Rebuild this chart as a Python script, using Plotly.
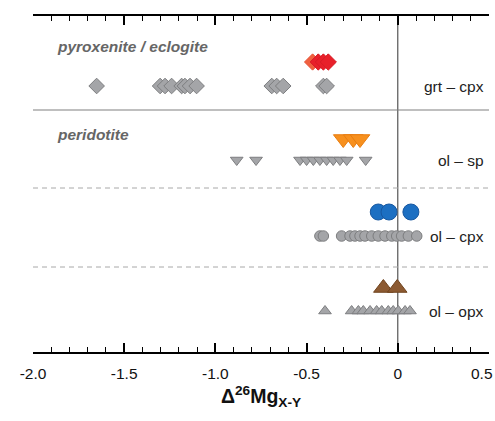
import plotly.graph_objects as go

# ---- data (Δ26Mg values) ----
grt_cpx_gray = [-1.651, -1.303, -1.276, -1.240, -1.185, -1.167, -1.139, -1.103,
                -0.691, -0.664, -0.628, -0.408, -0.390]
grt_cpx_red_light = [-0.467]
grt_cpx_red = [-0.436, -0.408, -0.381]

ol_sp_gray = [-0.883, -0.777, -0.536, -0.500, -0.463, -0.427, -0.390, -0.354,
              -0.317, -0.280, -0.176]
ol_sp_orange = [-0.299, -0.244, -0.207]

ol_cpx_gray = [-0.427, -0.408, -0.308, -0.262, -0.235, -0.207, -0.180, -0.143,
               -0.107, -0.070, -0.033, -0.006, 0.021, 0.058, 0.104]
ol_cpx_blue = [-0.107, -0.048, 0.072]

ol_opx_gray = [-0.399, -0.253, -0.216, -0.189, -0.152, -0.116, -0.088, -0.052,
               -0.025, 0.003, 0.040, 0.067]
ol_opx_brown = [-0.079, -0.003]

pair_labels = ["grt – cpx", "ol – sp", "ol – cpx", "ol – opx"]
group_labels = ["pyroxenite / eclogite", "peridotite"]
tick_vals = [-2.0, -1.5, -1.0, -0.5, 0, 0.5]
tick_text = ["-2.0", "-1.5", "-1.0", "-0.5", "0", "0.5"]

# row levels (vertical layout units, top=16, bottom=352)
row_gray = [86, 160, 236, 311]
row_color = [62, 139, 212, 288]
group_rows = [46, 134]
sep_solid = 110
sep_dashed = [188, 267]

GRAY = "#a4a5a8"
GRAY_LINE = "#7d7e80"
FONT = "Liberation Sans, Arial"

fig = go.Figure()

def add(xs, y, symbol, size, color, line_color):
    fig.add_trace(go.Scatter(
        x=xs, y=[y] * len(xs), mode="markers",
        marker=dict(symbol=symbol, size=size, color=color,
                    line=dict(color=line_color, width=1)),
        showlegend=False, hoverinfo="x"))

add(grt_cpx_gray, row_gray[0], "diamond", 12, GRAY, GRAY_LINE)
add(grt_cpx_red_light, row_color[0], "diamond", 12.5, "#f0603f", "#e8553a")
add(grt_cpx_red, row_color[0], "diamond", 12.5, "#e8202a", "#d81c25")

add(ol_sp_gray, row_gray[1], "triangle-down", 11, GRAY, GRAY_LINE)
add(ol_sp_orange, row_color[1], "triangle-down", 17, "#f7901e", "#e87d10")

add(ol_cpx_gray, row_gray[2], "circle", 10.5, GRAY, GRAY_LINE)
add(ol_cpx_blue, row_color[2], "circle", 16, "#1c6fc2", "#1757a0")

add(ol_opx_gray, row_gray[3], "triangle-up", 11, GRAY, GRAY_LINE)
add(ol_opx_brown, row_color[3], "triangle-up", 17, "#8c5a32", "#70441f")

shapes = [
    dict(type="line", xref="x", yref="paper", x0=0, x1=0, y0=0, y1=1,
         line=dict(color="#555555", width=1.2), layer="below"),
    dict(type="line", xref="paper", yref="y", x0=0, x1=1, y0=sep_solid, y1=sep_solid,
         line=dict(color="#808080", width=1.2), layer="below"),
]
for yd in sep_dashed:
    shapes.append(dict(type="line", xref="paper", yref="y", x0=0, x1=1, y0=yd, y1=yd,
                       line=dict(color="#a8a8a8", width=1, dash="5px,4px"), layer="below"))

annotations = []
for lab, y in zip(pair_labels, row_gray):
    annotations.append(dict(x=0.994, xref="paper", y=y, yref="y",
                            text=lab, showarrow=False, xanchor="right",
                            font=dict(size=15.5, color="#222222", family=FONT)))
for lab, y in zip(group_labels, group_rows):
    annotations.append(dict(x=0.048, xref="paper", y=y, yref="y",
                            text="<b><i>" + lab + "</i></b>", showarrow=False, xanchor="left",
                            font=dict(size=15.5, color="#666666", family=FONT)))

# last tick label drawn nudged left so it fits inside the figure, as in the reference
shown_ticktext = tick_text[:-1] + [""]
annotations.append(dict(x=tick_vals[-1], xref="x", y=0, yref="paper",
                        text=tick_text[-1], showarrow=False,
                        xanchor="right", yanchor="middle", xshift=6, yshift=-21,
                        font=dict(size=15.5, color="#111111", family=FONT)))

fig.update_layout(
    width=495, height=421,
    margin=dict(l=33, r=6, t=16, b=69),
    paper_bgcolor="white", plot_bgcolor="white",
    shapes=shapes, annotations=annotations,
    font=dict(family=FONT, color="#111111"),
    xaxis=dict(range=[-2.0, 0.5002], showgrid=False, zeroline=False, automargin=False,
               showline=True, linecolor="black", linewidth=1.5, mirror="ticks",
               ticks="inside", ticklen=9, tickwidth=1.5, tickcolor="black",
               tickvals=tick_vals, ticktext=shown_ticktext,
               ticklabeloverflow="allow", ticklabelstandoff=7,
               tickfont=dict(size=15.5, color="#111111"),
               minor=dict(dtick=0.1, ticks="inside", ticklen=5, tickwidth=1.2,
                          tickcolor="black", showgrid=False),
               title=dict(text="<b>Δ<sup>26</sup>Mg<sub>X-Y</sub></b>",
                          font=dict(size=19.5, color="#111111"), standoff=8)),
    yaxis=dict(range=[352, 16], showgrid=False, zeroline=False, showline=False,
               showticklabels=False, ticks="", automargin=False),
)

fig.write_html("out.html", config={"displayModeBar": False},
               post_script="document.body.style.margin='0';document.body.style.overflow='hidden';")
